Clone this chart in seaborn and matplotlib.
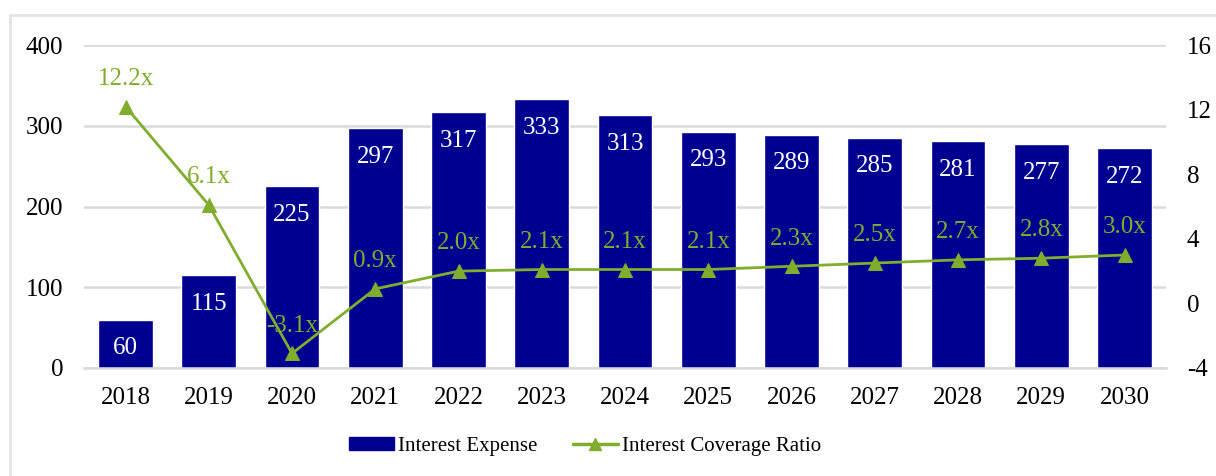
import matplotlib
matplotlib.use("Agg")
import matplotlib.pyplot as plt
from matplotlib.patches import Rectangle, Patch
from matplotlib.lines import Line2D
import seaborn as sns
import pandas as pd

years = ["2018", "2019", "2020", "2021", "2022", "2023", "2024",
         "2025", "2026", "2027", "2028", "2029", "2030"]
interest_expense = [60, 115, 225, 297, 317, 333, 313, 293, 289, 285, 281, 277, 272]
coverage_ratio = [12.2, 6.1, -3.1, 0.9, 2.0, 2.1, 2.1, 2.1, 2.3, 2.5, 2.7, 2.8, 3.0]

bar_color = "#000090"
line_color = "#80AD2E"
grid_color = "#D9D9D9"
FS = 18

sns.set_theme(style="white")
plt.rcParams["font.family"] = ["Liberation Serif", "DejaVu Serif"]
plt.rcParams["axes.unicode_minus"] = False

df = pd.DataFrame({"year": years, "expense": interest_expense, "ratio": coverage_ratio})

fig = plt.figure(figsize=(12.16, 4.76), dpi=100)
ax = fig.add_axes([0.069, 0.227, 0.89, 0.678])

sns.barplot(data=df, x="year", y="expense", color=bar_color, saturation=1,
            width=0.66, ax=ax, zorder=2)
ax.set_ylim(0, 400)
ax.set_yticks([0, 100, 200, 300, 400])
ax.yaxis.grid(True, color=grid_color, linewidth=1.8, zorder=0)
ax.set_axisbelow(True)
ax.set_xlabel("")
ax.set_ylabel("")
for s in ["left", "right", "top"]:
    ax.spines[s].set_visible(False)
ax.spines["bottom"].set_color(grid_color)
ax.spines["bottom"].set_linewidth(1.8)
ax.tick_params(axis="both", length=0, labelsize=FS, colors="black")
ax.tick_params(axis="x", pad=14)
ax.tick_params(axis="y", pad=15)

for i, v in enumerate(interest_expense):
    ax.annotate(f"{v}", (i, v), xytext=(0, -20.5), textcoords="offset points",
                ha="center", va="center", color="white", fontsize=FS)

ax2 = ax.twinx()
sns.lineplot(data=df, x="year", y="ratio", color=line_color, marker="^",
             markersize=10, markeredgecolor=line_color, linewidth=2, sort=False, ax=ax2)
ax2.set_ylim(-4, 16)
ax2.set_yticks([-4, 0, 4, 8, 12, 16])
ax2.set_ylabel("")
ax2.set_xlabel("")
for s in ["left", "right", "top", "bottom"]:
    ax2.spines[s].set_visible(False)
ax2.tick_params(axis="y", length=0, labelsize=FS, colors="black", pad=15)
ax2.grid(False)
ax.set_xlim(-0.5, len(years) - 0.5)

for i, r in enumerate(coverage_ratio):
    ax2.annotate(f"{r:.1f}x", (i, r), xytext=(0, 20), textcoords="offset points",
                 ha="center", va="center", color=line_color, fontsize=FS)

handles = [Patch(facecolor=bar_color, edgecolor=bar_color),
           Line2D([0], [0], color=line_color, marker="^", markersize=9, linewidth=2.5)]
fig.legend(handles, ["Interest Expense", "Interest Coverage Ratio"],
           loc="center", bbox_to_anchor=(0.481, 0.062), ncol=2, frameon=False,
           fontsize=15, labelcolor="black", handlelength=2.15, handleheight=0.55,
           columnspacing=1.7, handletextpad=0.2)

fig.patches.append(Rectangle((10 / 1216, -0.1), 1.2, 1.1 - 15 / 476,
                             transform=fig.transFigure, fill=False,
                             edgecolor="#E3E3E3", linewidth=2))

fig.savefig("out.png", dpi=100)
